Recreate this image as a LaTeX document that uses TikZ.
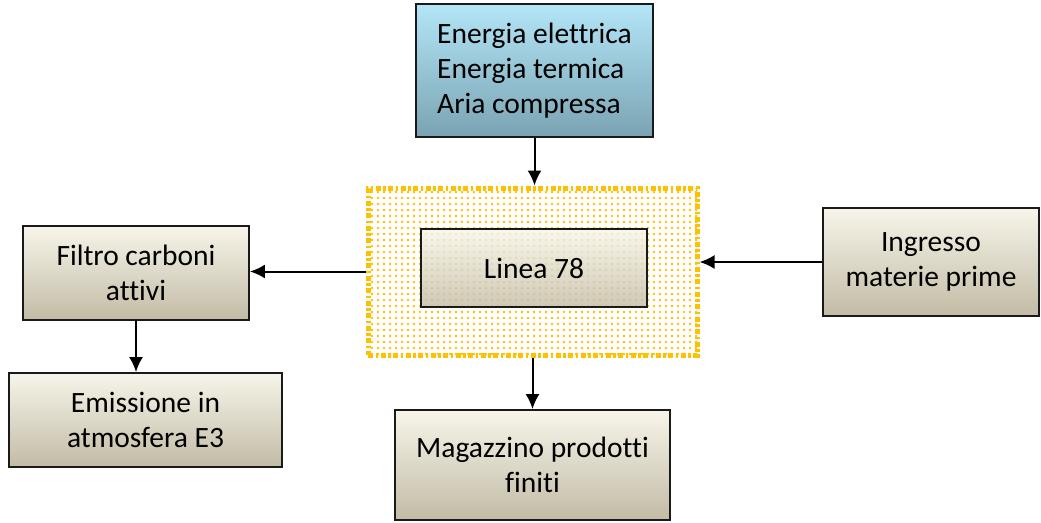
\documentclass[tikz,border=0pt]{standalone}
\usepackage{fontspec}
\setmainfont{Carlito}[Ligatures={NoCommon}]
\usetikzlibrary{patterns.meta,arrows.meta}

\definecolor{bordo}{HTML}{1A1A1A}
\definecolor{cielotop}{HTML}{B3E6F7}
\definecolor{cielobot}{HTML}{7AA3B3}
\definecolor{crematop}{HTML}{F7F5EA}
\definecolor{cremabot}{HTML}{C2BBA5}
\definecolor{giallo}{HTML}{FFC000}

\begin{document}
\begin{tikzpicture}[x=1pt,y=-1pt,
    box/.style={draw=bordo, line width=1.8pt, top color=crematop,
      bottom color=cremabot, inner sep=0pt, align=center,
      font=\fontsize{29.5}{35}\selectfont},
    arr/.style={->, >={Latex[length=15pt,width=14pt]}, line width=2pt}]
    \useasboundingbox (0,0) rectangle (1041,522);

    \node[box, top color=cielotop, bottom color=cielobot, align=left,
    minimum width=237pt, minimum height=133pt] (energia) at (534.5,70.5)
    {Energia elettrica\\Energia termica\\Aria compressa};

    \node[draw=giallo, line width=5pt,
    dash pattern=on 5pt off 2.5pt on 2.5pt off 2.5pt,
    pattern={Dots[distance=6pt, radius=1.3pt]}, pattern color=giallo,
    minimum width=329pt, minimum height=167pt] (area) at (532.5,271.5) {};
    \node[box, fill opacity=0.8, text opacity=1,
    minimum width=226pt, minimum height=78pt] (linea) at (534,268)
    {Linea 78};

    \node[box, minimum width=226pt, minimum height=94pt] (filtro) at (136,273)
    {Filtro carboni\\attivi};
    \node[box, minimum width=273pt, minimum height=94pt] (emissione) at (145.5,420)
    {Emissione in\\atmosfera E3};
    \node[box, minimum width=275pt, minimum height=110pt] (magazzino) at (532.5,465)
    {Magazzino prodotti\\finiti};
    \node[box, minimum width=216pt, minimum height=108pt] (ingresso) at (931,262)
    {Ingresso\\materie prime};

    \draw[arr] (energia.south) -- (energia.south |- area.north);
    \draw[arr] (area.west) -- (filtro.east |- area.west);
    \draw[arr] (ingresso.west) -- (area.east |- ingresso.west);
    \draw[arr] (area.south) -- (area.south |- magazzino.north);
    \draw[arr] (filtro.south) -- (filtro.south |- emissione.north);
\end{tikzpicture}
\end{document}
